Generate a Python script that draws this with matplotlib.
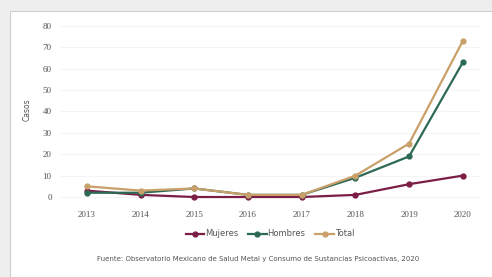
import numpy as np
import matplotlib.pyplot as plt
from matplotlib.patches import Rectangle

# data
years = [2013, 2014, 2015, 2016, 2017, 2018, 2019, 2020]
mujeres = [3, 1, 0, 0, 0, 1, 6, 10]
hombres = [2, 2, 4, 1, 1, 9, 19, 63]
total = [5, 3, 4, 1, 1, 10, 25, 73]
yticks = [0, 10, 20, 30, 40, 50, 60, 70, 80]

W, H = 492, 277
fig = plt.figure(figsize=(W / 100, H / 100), dpi=100)
fig.patch.set_facecolor("#eeeeee")

# white panel with a thin border
fig.patches.append(Rectangle((10 / W, 0), 1, 1 - 11 / H, transform=fig.transFigure,
                             facecolor="white", edgecolor="#cfcfcf", linewidth=0.8, zorder=-10))

ax = fig.add_axes([60 / W, 1 - 203 / H, 420 / W, 183 / H])
ax.set_facecolor("none")

ax.plot(years, mujeres, color="#7b1e46", marker="o", markersize=3.5, linewidth=1.6, label="Mujeres")
ax.plot(years, hombres, color="#2d6a55", marker="o", markersize=3.5, linewidth=1.6, label="Hombres")
ax.plot(years, total, color="#c9a069", marker="o", markersize=3.5, linewidth=1.6, label="Total")

ax.set_xlim(2012.5, 2020.32)
ax.set_ylim(-2.8, 82.8)
ax.set_xticks(years)
ax.set_yticks(yticks)
ax.tick_params(labelsize=6.5, length=0, colors="#555555", pad=6)
for lab in ax.get_xticklabels() + ax.get_yticklabels():
    lab.set_family("Liberation Serif")
ax.grid(axis="y", color="#f2f2f2", linewidth=0.6)
ax.set_axisbelow(True)
for s in ax.spines.values():
    s.set_visible(False)

fig.text(27 / W, 1 - 110 / H, "Casos", rotation=90, fontsize=5.5, color="#555555",
         ha="center", va="center")

fig.legend(loc="center", bbox_to_anchor=(270 / W, 1 - 234 / H), ncol=3, frameon=False,
           fontsize=6, handlelength=2.2, handletextpad=0.1, columnspacing=1.2,
           labelcolor="#555555")

fig.text(258 / W, 1 - 259 / H,
         "Fuente: Observatorio Mexicano de Salud Metal y Consumo de Sustancias Psicoactivas, 2020",
         fontsize=5, color="#555555", ha="center", va="center")

plt.savefig("out.png", dpi=100)
